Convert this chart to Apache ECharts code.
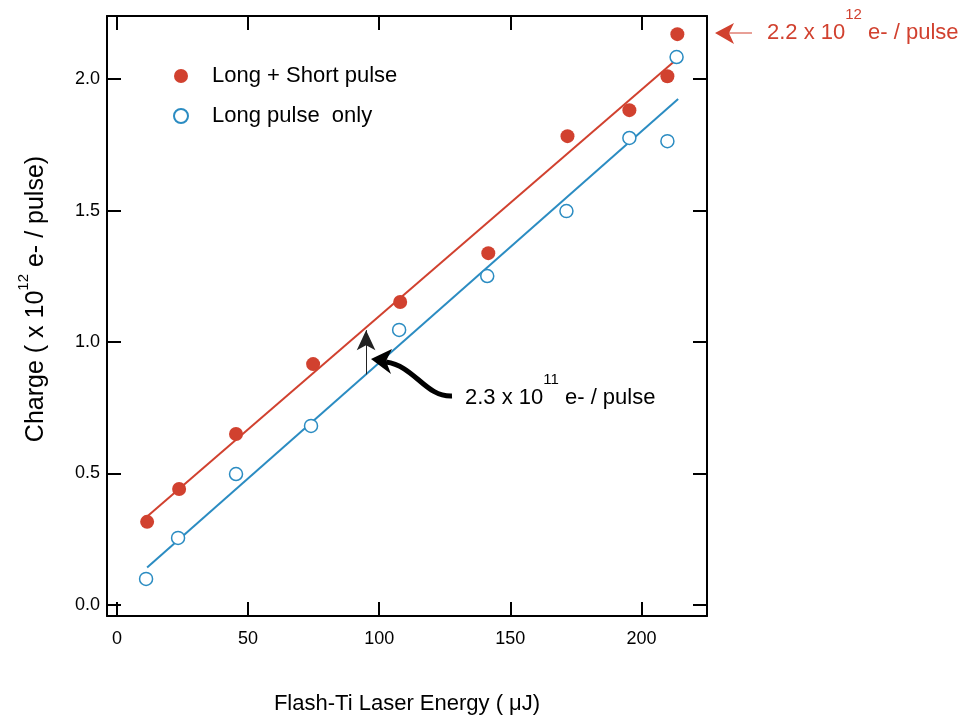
<!DOCTYPE html>
<html>
<head>
<meta charset="utf-8">
<script src="https://cdn.jsdelivr.net/npm/echarts@6/dist/echarts.min.js"></script>
<style>
  html, body { margin: 0; padding: 0; background: #fff; }
  #main { width: 959px; height: 717px; }
</style>
</head>
<body>
<div id="main"></div>
<script>
// data
var energyLongShort = [11.5, 23.7, 45.4, 74.8, 108, 141.6, 171.8, 195.4, 209.9, 213.7];
var chargeLongShort = [0.316, 0.441, 0.650, 0.916, 1.152, 1.338, 1.783, 1.882, 2.011, 2.171];
var energyLongOnly = [11.1, 23.3, 45.4, 74.0, 107.6, 141.2, 171.4, 195.4, 209.9, 213.4];
var chargeLongOnly = [0.099, 0.255, 0.498, 0.681, 1.046, 1.251, 1.498, 1.776, 1.764, 2.084];

// linear fits (end points)
var fitX = [11.5, 214];
var fitRed = [0.336, 2.08];
var fitBlue = [0.142, 1.924];

var xTicks = [0, 50, 100, 150, 200];
var yTicks = [0, 0.5, 1.0, 1.5, 2.0];

var RED = '#d1412f';
var BLUE = '#2b8cc2';
var FONT = 'Liberation Sans, Arial, Helvetica, sans-serif';

function pairs(xs, ys) {
    var out = [];
    for (var i = 0; i < xs.length; i++) out.push([xs[i], ys[i]]);
    return out;
}
function fitAt(ys, x) {
    return ys[0] + (ys[1] - ys[0]) * (x - fitX[0]) / (fitX[1] - fitX[0]);
}

var arrowX = 95;

function axisCommon(show) {
    return {
        type: 'value',
        axisLine: {show: true, onZero: false, lineStyle: {color: '#000', width: 2}},
        axisTick: {show: true, inside: true, length: 14, lineStyle: {color: '#000', width: 2}},
        splitLine: {show: false},
        axisLabel: {show: show, color: '#000', fontSize: 18, fontFamily: FONT}
    };
}

var xBottom = axisCommon(true);
xBottom.position = 'bottom';
xBottom.min = -3.8; xBottom.max = 225;
xBottom.axisTick.customValues = xTicks;
xBottom.axisLabel.customValues = xTicks;
xBottom.axisLabel.margin = 14;
xBottom.name = 'Flash-Ti Laser Energy ( \u03bcJ)';
xBottom.nameLocation = 'middle';
xBottom.nameGap = 77;
xBottom.nameTextStyle = {color: '#000', fontSize: 22, fontFamily: FONT};

var xTop = axisCommon(false);
xTop.position = 'top';
xTop.min = -3.8; xTop.max = 225;
xTop.axisTick.customValues = xTicks;

var yLeft = axisCommon(true);
yLeft.position = 'left';
yLeft.min = -0.042; yLeft.max = 2.24;
yLeft.axisTick.customValues = yTicks;
yLeft.axisLabel.customValues = yTicks;
yLeft.axisLabel.margin = 7;
yLeft.axisLabel.formatter = function (v) { return v.toFixed(1); };
yLeft.name = 'Charge ( x 10{sup|12} e- / pulse)';
yLeft.nameLocation = 'middle';
yLeft.nameGap = 51;
yLeft.nameTextStyle = {
    color: '#000', fontSize: 25, fontFamily: FONT, lineHeight: 40,
    padding: [0, 0, 0, 34],
    rich: {sup: {fontSize: 15, fontFamily: FONT, color: '#000', verticalAlign: 'top', lineHeight: 16}}
};

var yRight = axisCommon(false);
yRight.position = 'right';
yRight.min = -0.042; yRight.max = 2.24;
yRight.axisTick.customValues = yTicks;

var chart = echarts.init(document.getElementById('main'));

var option = {
    animation: false,
    backgroundColor: '#fff',
    grid: {left: 107, right: 252, top: 16, bottom: 101, containLabel: false, outerBoundsMode: 'none'},
    legend: {
        orient: 'vertical',
        left: 168, top: 60,
        itemWidth: 52, itemHeight: 14,
        itemGap: 18,
        symbolKeepAspect: true,
        textStyle: {color: '#000', fontSize: 22, fontFamily: FONT},
        data: ['Long + Short pulse', 'Long pulse  only']
    },
    xAxis: [xBottom, xTop],
    yAxis: [yLeft, yRight],
    series: [
        {
            name: 'Long + Short pulse fit', type: 'line',
            data: pairs(fitX, fitRed), showSymbol: false, symbol: 'none',
            lineStyle: {color: RED, width: 2}, z: 2,
            markLine: {
                silent: true,
                symbol: ['none', 'arrow'],
                symbolSize: [14, 20],
                label: {show: false},
                lineStyle: {color: '#222', width: 1, type: 'solid'},
                data: [[{coord: [arrowX, fitAt(fitBlue, arrowX)]}, {coord: [arrowX, fitAt(fitRed, arrowX) - 0.01]}]]
            }
        },
        {
            name: 'Long pulse fit', type: 'line',
            data: pairs(fitX, fitBlue), showSymbol: false, symbol: 'none',
            lineStyle: {color: BLUE, width: 2}, z: 2
        },
        {
            name: 'Long + Short pulse', type: 'scatter',
            data: pairs(energyLongShort, chargeLongShort),
            symbol: 'circle', symbolSize: 14,
            itemStyle: {color: RED, opacity: 1}, z: 3
        },
        {
            name: 'Long pulse  only', type: 'scatter',
            data: pairs(energyLongOnly, chargeLongOnly),
            symbol: 'circle', symbolSize: 13,
            itemStyle: {color: '#fff', borderColor: BLUE, borderWidth: 1.5, opacity: 1}, z: 3
        }
    ],
    graphic: [
        // red annotation top right
        {
            type: 'polygon', z: 10,
            shape: {points: [[715, 33], [734, 23], [729, 33], [734, 44]]},
            style: {fill: RED}
        },
        {
            type: 'line', z: 10,
            shape: {x1: 729, y1: 33, x2: 752, y2: 33},
            style: {stroke: RED, lineWidth: 1}
        },
        {
            type: 'text', z: 10, left: 767, top: 7,
            style: {
                text: '2.2 x 10{sup|12} e- / pulse',
                fill: RED, fontSize: 22, fontFamily: FONT, lineHeight: 52,
                rich: {sup: {fontSize: 15, fill: RED, fontFamily: FONT, verticalAlign: 'top', lineHeight: 16}}
            }
        },
        // black annotation
        {
            type: 'bezierCurve', z: 10,
            shape: {x1: 452, y1: 396, cpx1: 425, cpy1: 397, cpx2: 415, cpy2: 366, x2: 386, y2: 362},
            style: {stroke: '#000', lineWidth: 5, fill: null}
        },
        {
            type: 'polygon', z: 10,
            shape: {points: [[371, 359], [392, 349], [386, 361], [391, 374]]},
            style: {fill: '#000'}
        },
        {
            type: 'text', z: 10, left: 465, top: 372,
            style: {
                text: '2.3 x 10{sup|11} e- / pulse',
                fill: '#000', fontSize: 22, fontFamily: FONT, lineHeight: 52,
                rich: {sup: {fontSize: 15, fill: '#000', fontFamily: FONT, verticalAlign: 'top', lineHeight: 16}}
            }
        }
    ]
};

chart.setOption(option);
</script>
</body>
</html>
